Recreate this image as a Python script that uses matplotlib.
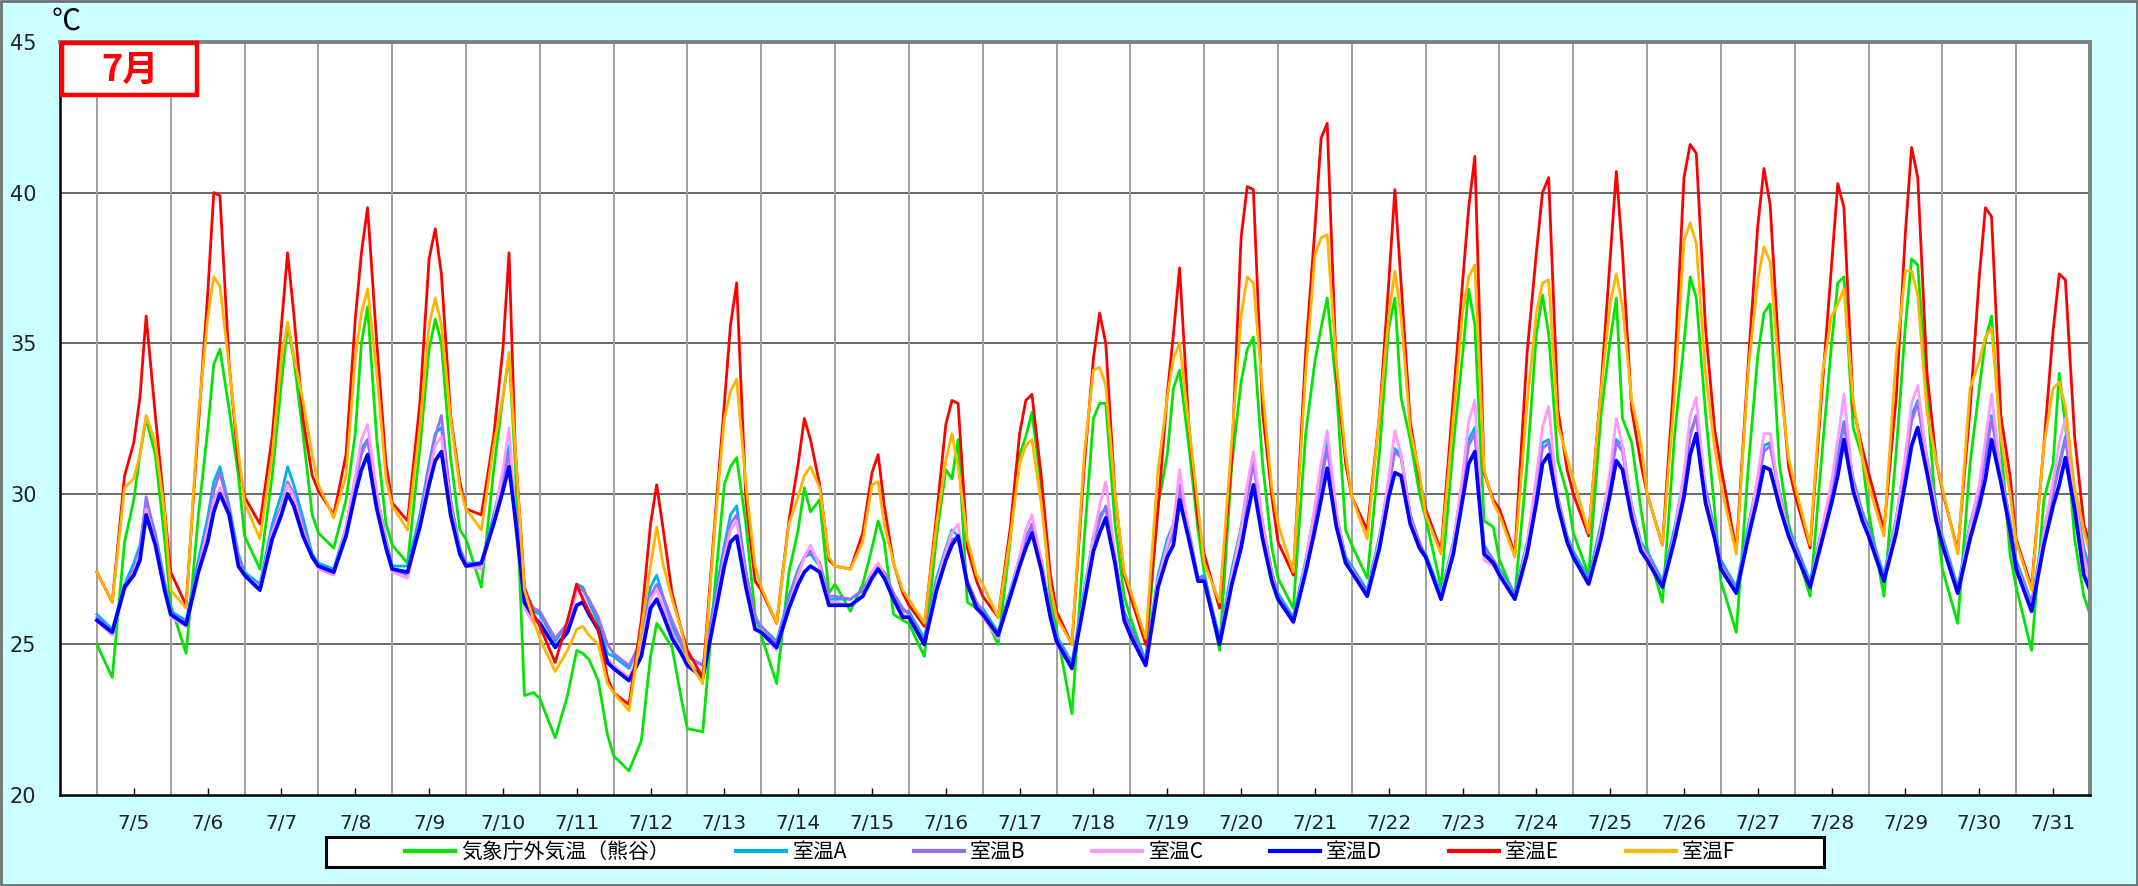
import matplotlib
matplotlib.use('Agg')
import matplotlib.pyplot as plt
from matplotlib.patches import Rectangle
from matplotlib.lines import Line2D

plt.rcParams['font.family'] = ['Noto Sans CJK JP', 'DejaVu Sans']

# 1日あたりの読み取り時刻（時）
HOURS = [0, 5, 9, 12, 14, 16, 19, 22]

dates = ['7/5', '7/6', '7/7', '7/8', '7/9', '7/10', '7/11', '7/12', '7/13',
         '7/14', '7/15', '7/16', '7/17', '7/18', '7/19', '7/20', '7/21',
         '7/22', '7/23', '7/24', '7/25', '7/26', '7/27', '7/28', '7/29',
         '7/30', '7/31']

# 気象庁外気温（熊谷）
outside = [
    25.0, 23.9, 28.4, 29.8, 31.3, 32.5, 31.3, 28.5,   # 7/5
    26.3, 24.7, 29.3, 32.1, 34.3, 34.8, 32.8, 30.6,
    28.6, 27.5, 30.6, 33.7, 35.6, 34.5, 32.0, 29.3,
    28.7, 28.2, 29.8, 32.0, 35.0, 36.2, 31.8, 29.0,
    28.3, 27.7, 31.5, 34.8, 35.8, 35.0, 31.2, 28.8,
    28.5, 26.9, 30.8, 33.2, 34.6, 31.0, 23.3, 23.4,   # 7/10
    23.2, 21.9, 23.3, 24.8, 24.7, 24.5, 23.8, 22.0,
    21.3, 20.8, 21.8, 24.6, 25.7, 25.4, 24.9, 23.2,
    22.2, 22.1, 27.0, 30.3, 30.9, 31.2, 29.0, 26.0,
    25.3, 23.7, 27.4, 28.8, 30.2, 29.4, 29.8, 26.7,
    27.0, 26.1, 27.0, 28.2, 29.1, 28.4, 26.0, 25.8,   # 7/15
    25.7, 24.6, 28.6, 30.8, 30.5, 31.8, 26.4, 26.2,
    26.1, 25.0, 28.5, 31.3, 31.9, 32.7, 30.3, 26.5,
    25.5, 22.7, 28.5, 32.5, 33.0, 33.0, 29.0, 26.6,
    25.9, 24.4, 29.6, 31.3, 33.5, 34.1, 31.6, 28.8,
    27.4, 24.8, 31.0, 33.7, 34.8, 35.2, 31.0, 28.2,   # 7/20
    27.2, 26.2, 32.0, 34.4, 35.5, 36.5, 33.5, 28.8,
    28.3, 27.2, 31.4, 35.5, 36.5, 33.2, 31.8, 30.0,
    29.2, 26.9, 31.6, 34.6, 36.8, 35.6, 29.1, 28.9,
    27.8, 26.6, 31.0, 35.3, 36.6, 35.3, 31.1, 30.0,
    28.7, 27.3, 32.6, 35.1, 36.5, 32.5, 31.7, 29.5,   # 7/25
    28.2, 26.4, 32.0, 35.0, 37.2, 36.5, 32.7, 29.4,
    27.1, 25.4, 31.0, 34.6, 36.0, 36.3, 31.0, 29.0,
    28.3, 26.6, 31.5, 35.0, 37.0, 37.2, 32.2, 31.2,
    29.4, 26.6, 31.4, 35.6, 37.8, 37.6, 33.2, 29.3,
    27.5, 25.7, 31.0, 33.5, 35.1, 35.9, 31.7, 28.0,   # 7/30
    26.9, 24.8, 29.8, 31.0, 34.0, 32.3, 28.5, 26.6,
    26.0]

room_a = [
    26.0, 25.5, 27.0, 27.7, 28.3, 29.7, 28.7, 27.1,
    26.1, 25.8, 27.8, 29.2, 30.4, 30.9, 29.6, 28.0,
    27.4, 27.0, 29.0, 30.0, 30.9, 30.3, 29.2, 28.0,
    27.7, 27.5, 28.9, 30.5, 31.5, 31.8, 30.0, 28.5,
    27.6, 27.6, 29.3, 31.0, 32.0, 32.2, 29.8, 28.2,
    27.7, 27.7, 29.3, 30.6, 31.6, 29.5, 26.6, 26.1,
    26.0, 25.1, 25.7, 27.0, 26.9, 26.4, 25.7, 24.7,
    24.6, 24.2, 25.2, 26.9, 27.3, 26.6, 25.6, 24.9,
    24.6, 24.3, 26.6, 28.3, 29.3, 29.6, 27.4, 25.8,
    25.6, 25.1, 26.6, 27.5, 27.9, 28.0, 27.6, 26.5,
    26.5, 26.5, 26.8, 27.3, 27.5, 27.3, 26.6, 26.1,
    26.1, 25.2, 27.2, 28.2, 28.8, 28.6, 27.0, 26.3,
    26.2, 25.4, 26.8, 27.9, 28.6, 28.9, 27.7, 26.1,
    25.3, 24.4, 26.8, 28.6, 29.3, 29.5, 27.9, 26.1,
    25.6, 24.5, 27.3, 28.5, 29.0, 30.3, 28.8, 27.2,
    27.3, 25.2, 27.5, 28.9, 30.2, 31.1, 29.0, 27.4,
    26.7, 25.9, 27.8, 29.5, 30.6, 31.8, 29.3, 27.9,
    27.6, 26.8, 28.6, 30.4, 31.5, 31.3, 29.3, 28.3,
    28.0, 26.7, 28.4, 30.4, 31.8, 32.2, 28.3, 27.8,
    27.5, 26.7, 28.4, 30.3, 31.7, 31.8, 29.9, 28.6,
    28.1, 27.2, 29.0, 30.6, 31.8, 31.6, 29.6, 28.4,
    28.1, 27.1, 28.9, 30.6, 32.0, 32.6, 30.2, 28.8,
    27.8, 26.9, 29.0, 30.5, 31.6, 31.7, 30.1, 28.8,
    28.4, 27.1, 28.9, 30.2, 31.3, 32.4, 30.5, 29.4,
    28.9, 27.3, 29.2, 31.2, 32.6, 33.1, 31.2, 29.6,
    28.6, 26.9, 29.0, 30.2, 31.3, 32.6, 30.8, 29.1,
    27.8, 26.4, 28.8, 30.2, 31.0, 31.9, 30.0, 28.2,
    27.5]

room_b = [
    25.9, 25.4, 26.9, 27.5, 28.1, 29.9, 28.6, 27.0,
    26.0, 25.7, 27.6, 28.9, 30.1, 30.7, 29.5, 27.9,
    27.3, 26.9, 28.8, 29.6, 30.4, 30.0, 28.9, 27.9,
    27.6, 27.4, 28.8, 30.4, 31.3, 31.8, 29.9, 28.4,
    27.5, 27.3, 29.1, 30.9, 31.9, 32.6, 29.8, 28.1,
    27.7, 27.6, 29.1, 30.5, 31.3, 29.5, 26.8, 26.2,
    26.1, 25.2, 25.7, 26.9, 26.8, 26.5, 25.9, 25.0,
    24.7, 24.3, 25.1, 26.6, 27.0, 26.6, 25.8, 25.1,
    24.6, 24.3, 26.4, 28.1, 29.0, 29.3, 27.4, 25.9,
    25.6, 25.0, 26.5, 27.4, 27.9, 28.1, 27.7, 26.6,
    26.6, 26.5, 26.8, 27.4, 27.6, 27.4, 26.7, 26.2,
    26.0, 25.1, 27.0, 28.0, 28.5, 28.5, 27.1, 26.4,
    26.1, 25.3, 26.7, 27.8, 28.5, 29.0, 27.8, 26.1,
    25.2, 24.3, 26.6, 28.4, 29.1, 29.6, 27.9, 26.0,
    25.5, 24.4, 27.1, 28.2, 28.7, 30.2, 28.7, 27.2,
    27.2, 25.1, 27.3, 28.6, 29.9, 31.0, 29.0, 27.4,
    26.6, 25.8, 27.6, 29.3, 30.4, 31.5, 29.3, 27.8,
    27.5, 26.7, 28.4, 30.2, 31.4, 31.2, 29.3, 28.4,
    27.9, 26.6, 28.2, 30.2, 31.6, 32.0, 28.2, 27.8,
    27.4, 26.6, 28.2, 30.1, 31.5, 31.7, 29.8, 28.5,
    28.0, 27.1, 28.8, 30.4, 31.7, 31.4, 29.5, 28.3,
    28.0, 27.0, 28.7, 30.4, 31.9, 32.6, 30.1, 28.7,
    27.7, 26.8, 28.8, 30.3, 31.4, 31.6, 30.0, 28.7,
    28.3, 27.0, 28.8, 30.0, 31.1, 32.3, 30.4, 29.3,
    28.8, 27.2, 29.0, 31.0, 32.4, 33.0, 31.1, 29.5,
    28.5, 26.8, 28.8, 30.0, 31.1, 32.5, 30.7, 29.0,
    27.7, 26.3, 28.6, 30.0, 30.9, 31.8, 29.9, 28.0,
    27.1]

room_c = [
    25.8, 25.3, 26.8, 27.4, 28.0, 29.5, 28.4, 26.9,
    25.9, 25.6, 27.5, 28.8, 29.8, 30.2, 29.3, 27.7,
    27.3, 26.9, 28.7, 29.5, 30.3, 29.9, 28.8, 27.9,
    27.5, 27.3, 28.9, 30.6, 31.8, 32.3, 30.0, 28.4,
    27.4, 27.2, 29.0, 30.6, 31.6, 31.9, 29.6, 28.0,
    27.6, 27.5, 29.1, 30.8, 32.2, 29.2, 26.2, 25.7,
    25.8, 24.9, 25.5, 26.8, 26.6, 26.1, 25.4, 24.5,
    24.3, 23.9, 24.9, 26.5, 26.8, 26.3, 25.4, 24.8,
    24.4, 24.0, 26.2, 27.9, 28.8, 29.1, 27.1, 25.6,
    25.4, 24.8, 26.3, 27.3, 27.9, 28.3, 27.6, 26.4,
    26.4, 26.3, 26.6, 27.4, 27.7, 27.3, 26.5, 26.0,
    25.9, 25.0, 27.0, 28.1, 28.7, 29.0, 27.0, 26.2,
    25.9, 25.2, 26.7, 27.9, 28.8, 29.3, 27.8, 26.0,
    25.0, 24.2, 26.6, 28.6, 29.6, 30.4, 28.0, 25.9,
    25.3, 24.3, 27.1, 28.3, 29.0, 30.8, 28.7, 27.1,
    27.1, 25.0, 27.3, 28.8, 30.3, 31.4, 29.0, 27.3,
    26.5, 25.7, 27.7, 29.6, 31.0, 32.1, 29.4, 27.7,
    27.5, 26.6, 28.5, 30.5, 32.1, 31.3, 29.2, 28.2,
    27.9, 26.6, 28.3, 30.6, 32.4, 33.1, 27.8, 27.6,
    27.4, 26.5, 28.3, 30.6, 32.2, 32.9, 29.8, 28.5,
    27.9, 27.0, 28.8, 30.8, 32.5, 31.6, 29.5, 28.3,
    27.9, 26.9, 28.7, 30.7, 32.6, 33.2, 30.0, 28.6,
    27.6, 26.7, 28.8, 30.6, 32.0, 32.0, 30.0, 28.7,
    28.2, 26.9, 28.9, 30.4, 31.8, 33.3, 30.3, 29.2,
    28.7, 27.1, 29.1, 31.3, 33.0, 33.6, 31.1, 29.4,
    28.4, 26.7, 28.9, 30.3, 31.8, 33.3, 30.7, 28.9,
    27.6, 26.2, 28.7, 30.4, 31.7, 32.5, 29.9, 27.9,
    27.0]

room_d = [
    25.8, 25.4, 26.9, 27.3, 27.8, 29.3, 28.3, 26.8,
    26.0, 25.65, 27.4, 28.4, 29.4, 30.0, 29.3, 27.6,
    27.3, 26.8, 28.5, 29.3, 30.0, 29.6, 28.6, 27.9,
    27.6, 27.4, 28.6, 30.0, 30.8, 31.3, 29.5, 28.2,
    27.5, 27.4, 28.9, 30.3, 31.1, 31.4, 29.3, 28.0,
    27.6, 27.7, 29.0, 30.1, 30.9, 29.2, 26.4, 25.9,
    25.7, 24.9, 25.4, 26.3, 26.4, 26.0, 25.5, 24.4,
    24.2, 23.8, 24.6, 26.2, 26.5, 26.0, 25.2, 24.7,
    24.3, 23.9, 26.0, 27.6, 28.4, 28.6, 26.9, 25.5,
    25.4, 24.9, 26.2, 27.0, 27.4, 27.6, 27.4, 26.3,
    26.3, 26.3, 26.6, 27.2, 27.5, 27.2, 26.5, 25.9,
    25.9, 25.0, 26.8, 27.8, 28.3, 28.6, 27.0, 26.2,
    26.0, 25.3, 26.6, 27.6, 28.2, 28.7, 27.5, 25.9,
    25.1, 24.2, 26.4, 28.1, 28.7, 29.2, 27.7, 25.8,
    25.3, 24.3, 26.9, 27.9, 28.3, 29.8, 28.5, 27.1,
    27.1, 25.0, 27.0, 28.2, 29.3, 30.3, 28.5, 27.1,
    26.5, 25.75, 27.4, 28.8, 29.8, 30.85, 28.9, 27.7,
    27.4, 26.6, 28.2, 29.9, 30.7, 30.6, 29.0, 28.2,
    27.9, 26.5, 28.0, 29.8, 31.0, 31.4, 28.0, 27.7,
    27.3, 26.5, 28.0, 29.7, 31.0, 31.3, 29.6, 28.4,
    27.9, 27.0, 28.5, 30.0, 31.1, 30.8, 29.2, 28.1,
    27.8, 26.9, 28.5, 29.9, 31.3, 32.0, 29.7, 28.5,
    27.5, 26.7, 28.6, 29.9, 30.9, 30.8, 29.6, 28.6,
    28.1, 26.9, 28.5, 29.7, 30.6, 31.8, 30.1, 29.1,
    28.6, 27.1, 28.7, 30.4, 31.6, 32.2, 30.7, 29.1,
    28.3, 26.7, 28.5, 29.6, 30.5, 31.8, 30.4, 28.8,
    27.5, 26.1, 28.3, 29.6, 30.3, 31.2, 29.5, 27.3,
    26.8]

room_e = [
    27.4, 26.4, 30.6, 31.7, 33.2, 35.9, 32.6, 29.5,
    27.4, 26.3, 32.3, 36.6, 40.0, 39.9, 34.3, 31.0,
    29.9, 29.0, 31.9, 35.6, 38.0, 36.0, 32.5, 30.6,
    30.1, 29.3, 31.3, 35.8, 38.0, 39.5, 35.0, 31.0,
    29.7, 29.1, 33.0, 37.8, 38.8, 37.3, 32.6, 30.4,
    29.5, 29.3, 31.9, 34.8, 38.0, 31.5, 26.9, 26.0,
    25.6, 24.4, 25.8, 27.0, 26.5, 26.1, 25.5, 23.9,
    23.4, 23.0, 25.8, 29.0, 30.3, 28.9, 26.7, 25.5,
    24.8, 23.9, 29.2, 33.0, 35.6, 37.0, 29.8, 27.1,
    26.8, 25.7, 29.1, 31.0, 32.5, 31.8, 30.3, 27.8,
    27.6, 27.5, 28.7, 30.7, 31.3, 29.6, 27.7, 26.7,
    26.3, 25.6, 29.3, 32.3, 33.1, 33.0, 28.2, 27.1,
    26.6, 25.9, 28.9, 32.0, 33.1, 33.3, 30.6, 27.3,
    26.1, 25.0, 30.9, 34.5, 36.0, 35.0, 30.0, 27.3,
    26.6, 25.0, 29.5, 33.3, 35.3, 37.5, 32.3, 29.1,
    28.0, 26.2, 31.2, 38.5, 40.2, 40.1, 32.7, 29.9,
    28.4, 27.3, 34.7, 38.8, 41.8, 42.3, 34.0, 31.0,
    29.9, 28.8, 32.6, 37.0, 40.1, 37.0, 32.4, 30.5,
    29.5, 28.1, 33.2, 37.0, 39.5, 41.2, 30.7, 29.8,
    29.5, 28.0, 34.7, 38.0, 40.0, 40.5, 32.8, 30.8,
    30.0, 28.6, 33.5, 37.8, 40.7, 38.0, 32.8, 31.0,
    30.0, 28.3, 34.2, 40.5, 41.6, 41.3, 35.5, 32.1,
    30.9, 28.1, 34.5, 38.9, 40.8, 39.6, 34.4, 30.9,
    30.0, 28.2, 33.6, 37.6, 40.3, 39.5, 32.9, 31.5,
    30.7, 28.8, 33.2, 38.7, 41.5, 40.5, 34.0, 31.1,
    30.1, 28.1, 32.8, 37.2, 39.5, 39.2, 32.6, 30.6,
    28.5, 26.9, 31.6, 35.4, 37.3, 37.1, 31.9, 29.0,
    28.3]

room_f = [
    27.4, 26.4, 30.2, 30.5, 31.3, 32.6, 31.7, 29.4,
    26.8, 26.2, 32.6, 35.8, 37.2, 36.9, 34.2, 31.4,
    29.7, 28.5, 31.3, 34.5, 35.7, 34.6, 33.1, 31.3,
    30.3, 29.2, 30.6, 34.5, 36.0, 36.8, 34.0, 30.5,
    29.6, 28.8, 32.2, 35.6, 36.5, 35.6, 32.5, 30.2,
    29.5, 28.8, 31.6, 33.2, 34.7, 31.5, 26.8, 25.8,
    25.2, 24.1, 24.8, 25.5, 25.6, 25.3, 25.0, 23.7,
    23.4, 22.8, 25.5, 27.6, 28.9, 27.7, 26.5, 25.5,
    24.5, 23.7, 29.0, 32.5, 33.4, 33.8, 30.3, 27.6,
    26.9, 25.7, 29.0, 29.9, 30.6, 30.9, 30.2, 27.9,
    27.6, 27.5, 28.4, 30.3, 30.4, 29.0, 27.7, 26.8,
    26.5, 25.7, 29.0, 31.1, 32.0, 30.9, 28.5, 27.3,
    27.0, 25.9, 28.6, 31.0, 31.6, 31.8, 29.7, 26.9,
    25.9, 25.0, 31.3, 34.1, 34.2, 33.6, 30.0, 27.4,
    26.8, 25.2, 30.8, 33.2, 34.5, 35.0, 32.3, 29.6,
    27.7, 26.4, 31.8, 35.9, 37.2, 37.0, 33.4, 30.2,
    29.0, 27.4, 34.0, 37.9, 38.5, 38.6, 34.3, 31.3,
    29.9, 28.5, 32.6, 35.9, 37.4, 35.9, 32.1, 30.7,
    29.3, 28.0, 32.5, 36.0, 37.2, 37.6, 30.8, 29.7,
    29.3, 27.9, 33.0, 36.0, 37.0, 37.1, 32.3, 31.2,
    30.5, 28.7, 33.4, 36.3, 37.3, 36.2, 33.1, 31.7,
    30.0, 28.3, 33.3, 38.4, 39.0, 38.3, 34.0, 31.5,
    30.3, 28.0, 34.2, 37.1, 38.2, 37.7, 33.9, 31.2,
    30.3, 28.3, 34.0, 35.9, 36.3, 36.8, 33.1, 31.2,
    30.3, 28.6, 34.6, 37.4, 37.4, 36.6, 32.7, 31.1,
    30.2, 28.0, 33.5, 34.4, 35.2, 35.5, 31.9, 30.0,
    28.4, 26.8, 31.6, 33.5, 33.7, 32.9, 30.2, 28.8,
    28.0]

labels = ['気象庁外気温（熊谷）', '室温A', '室温B', '室温C', '室温D', '室温E', '室温F']
colors = ['#00E600', '#00B0F0', '#9A6CFF', '#FF99FF', '#0000FF', '#FF0000', '#FFB400']
widths = [2.0, 2.0, 2.0, 2.0, 2.7, 2.0, 2.0]
series = [outside, room_a, room_b, room_c, room_d, room_e, room_f]

# 時刻（7/5 0時を0とした日数）
x = [d + h / 24 for d in range(len(dates)) for h in HOURS] + [len(dates)]

W, H = 2138, 886
fig = plt.figure(figsize=(W / 100, H / 100), dpi=100, facecolor='#CCFFFF')
ax = fig.add_axes([60 / W, 1 - 795 / H, (2090 - 60) / W, (795 - 42) / H])
ax.set_facecolor('white')

for y, c, lw in zip(series, colors, widths):
    ax.plot(x, y, color=c, lw=lw, solid_joinstyle='round')

ax.set_xlim(-0.5, len(dates))
ax.set_ylim(20, 45)

for v in [25, 30, 35, 40]:
    ax.axhline(v, color='#505050', lw=1.2, zorder=0.5)
for d in range(len(dates)):
    ax.axvline(d, color='#A0A0A0', lw=1.4, zorder=0.5)

ax.set_xticks([d + 0.5 for d in range(len(dates))])
ax.set_xticklabels(dates)
ax.set_yticks([20, 25, 30, 35, 40, 45])
ax.tick_params(axis='x', direction='in', length=5, width=1, pad=14,
               labelsize=14.5, labelcolor='#222222')
ax.tick_params(axis='y', length=0, pad=17, labelsize=15, labelcolor='#222222')
for lab in ax.get_xticklabels() + ax.get_yticklabels():
    lab.set_fontfamily('DejaVu Sans')

for s in ['left', 'bottom']:
    ax.spines[s].set_color('black')
    ax.spines[s].set_linewidth(1.8)
for s in ['top', 'right']:
    ax.spines[s].set_color('#808080')
    ax.spines[s].set_linewidth(2.8)

fig.text(66 / W, 1 - 22 / H, '℃', ha='center', va='center', fontsize=21)

# 月ラベル
fig.add_artist(Rectangle((62 / W, 1 - 95 / H), 135 / W, 52 / H,
                         transform=fig.transFigure, facecolor='white',
                         edgecolor='#FF0000', lw=3.2, zorder=3))
fig.text(129.5 / W, 1 - 70 / H, '7月', ha='center', va='center',
         fontsize=26, fontweight='bold', color='#FF0000', zorder=4)

# 凡例
fig.add_artist(Rectangle((326 / W, 1 - 867 / H), 1498 / W, 30 / H,
                         transform=fig.transFigure, facecolor='white',
                         edgecolor='black', lw=2.2, zorder=3))
handles = [Line2D([], [], color=c, lw=3) for c in colors]
fig.legend(handles, labels, loc='center', bbox_to_anchor=(1070 / W, 1 - 852 / H),
           ncol=7, frameon=False, fontsize=15, handlelength=2.4,
           handletextpad=0.3, columnspacing=3.2, borderpad=0, borderaxespad=0)

fig.add_artist(Rectangle((0.0005, 0.001), 0.999, 0.998, transform=fig.transFigure,
                         fill=False, edgecolor='#707070', lw=2, zorder=5))

fig.savefig('out.png', dpi=100, facecolor=fig.get_facecolor())
